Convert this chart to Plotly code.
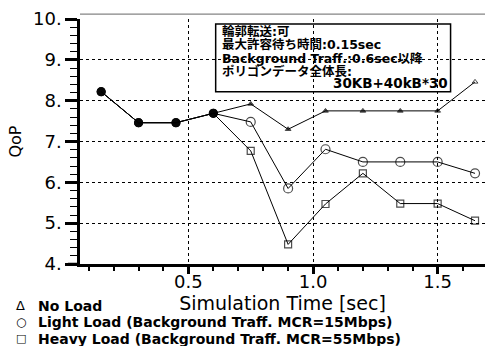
import plotly.graph_objects as go

time_s = [0.15, 0.30, 0.45, 0.60, 0.75, 0.90, 1.05, 1.20, 1.35, 1.50, 1.65]
no_load = [8.22, 7.46, 7.46, 7.69, 7.92, 7.30, 7.75, 7.75, 7.75, 7.75, 8.46]
light_load = [8.22, 7.46, 7.46, 7.69, 7.48, 5.85, 6.81, 6.50, 6.50, 6.50, 6.22]
heavy_load = [8.22, 7.46, 7.46, 7.69, 6.77, 4.48, 5.47, 6.22, 5.48, 5.48, 5.06]

y_tickvals = [4, 5, 6, 7, 8, 9, 10]
y_ticktext = ["4.", "5.", "6.", "7.", "8.", "9.", "10."]
x_tickvals = [0.5, 1.0, 1.5]
x_ticktext = ["0.5", "1.0", "1.5"]

legend_symbols = ["Δ", "○", "□"]
legend_labels = [
    "No Load",
    "Light Load (Background Traff. MCR=15Mbps)",
    "Heavy Load (Background Traff. MCR=55Mbps)",
]
info_lines = [
    "輪郭転送:可",
    "最大許容待ち時間:0.15sec",
    "Background Traff.:0.6sec以降",
    "ポリゴンデータ全体長:",
]
info_last = "30KB+40kB*30"

FONT = "DejaVu Sans, Noto Sans CJK JP, sans-serif"
fig = go.Figure()

fig.add_trace(go.Scatter(
    x=time_s, y=heavy_load, mode="lines+markers",
    line=dict(color="black", width=1),
    marker=dict(symbol=["circle"] * 4 + ["square-open"] * 7, size=[8] * 4 + [7] * 7,
                color="black", line=dict(width=1.2, color="black")),
    showlegend=False))
fig.add_trace(go.Scatter(
    x=time_s, y=light_load, mode="lines+markers",
    line=dict(color="black", width=1),
    marker=dict(symbol=["circle"] * 4 + ["circle-open"] * 7, size=[8] * 4 + [9] * 7,
                color="black", line=dict(width=1.2, color="black")),
    showlegend=False))
fig.add_trace(go.Scatter(
    x=time_s, y=no_load, mode="lines+markers",
    line=dict(color="black", width=1),
    marker=dict(symbol=["circle"] * 4 + ["triangle-up"] * 6 + ["triangle-up-open"],
                size=[8] * 4 + [5] * 7,
                color="black", line=dict(width=1, color="black")),
    showlegend=False))

fig.update_xaxes(
    range=[0.065, 1.69], tickvals=x_tickvals, ticktext=x_ticktext,
    automargin=False,
    showline=True, linecolor="black", linewidth=2.5,
    ticks="outside", ticklen=7, tickwidth=3, tickcolor="black",
    ticklabelstandoff=-7,
    showgrid=True, gridcolor="black", griddash="dot", gridwidth=1,
    zeroline=False,
    minor=dict(dtick=0.1, tick0=0, ticks="outside", ticklen=4, tickwidth=1.5,
               tickcolor="black", showgrid=False),
    tickfont=dict(family=FONT, size=18, color="black"),
    title=dict(text="Simulation Time [sec]", font=dict(family=FONT, size=19, color="black"),
               standoff=2),
)
fig.update_yaxes(
    range=[4, 10], tickvals=y_tickvals, ticktext=y_ticktext,
    automargin=False,
    showline=True, linecolor="black", linewidth=2.5,
    ticks="outside", ticklen=12, tickwidth=3, tickcolor="black",
    showgrid=True, gridcolor="black", griddash="dot", gridwidth=1,
    zeroline=False,
    minor=dict(dtick=0.2, tick0=0, ticks="outside", ticklen=7, tickwidth=1.2,
               tickcolor="black", showgrid=False),
    tickfont=dict(family=FONT, size=18, color="black"),
    title=dict(text="QoP", font=dict(family=FONT, size=16, color="black"), standoff=8),
)

fig.add_shape(type="line", xref="paper", yref="paper", x0=0, x1=1, y0=1.02, y1=1.02,
              line=dict(color="#666666", width=1))
fig.add_shape(type="line", xref="paper", yref="paper", x0=-0.03, x1=0, y0=0, y1=0,
              line=dict(color="black", width=2.5))

info_y = [0.948, 0.894, 0.839, 0.785]
for t, yy in zip(info_lines, info_y):
    fig.add_annotation(xref="paper", yref="paper", x=0.346, y=yy, xanchor="left",
                       yanchor="middle", text=t, showarrow=False,
                       font=dict(family=FONT, size=12.5, color="black", weight="bold"))
fig.add_annotation(xref="paper", yref="paper", x=0.913, y=0.737, xanchor="right",
                   yanchor="middle", text=info_last, showarrow=False,
                   font=dict(family=FONT, size=13.5, color="black", weight="bold"))
fig.add_shape(type="rect", xref="paper", yref="paper", x0=0.335, x1=0.915, y0=0.703, y1=0.980,
              line=dict(color="black", width=1.5))

leg_y = [-0.171, -0.237, -0.305]
sym_size = [13, 12, 11]
for s, t, yy, ss in zip(legend_symbols, legend_labels, leg_y, sym_size):
    fig.add_annotation(xref="paper", yref="paper", x=-0.146, y=yy, xanchor="center",
                       yanchor="middle", text=s, showarrow=False,
                       font=dict(family=FONT, size=ss, color="black"))
    fig.add_annotation(xref="paper", yref="paper", x=-0.1086, y=yy, xanchor="left",
                       yanchor="middle", text=t, showarrow=False,
                       font=dict(family=FONT, size=14, color="black", weight="bold"))

fig.update_layout(
    width=485, height=346,
    margin=dict(l=80, r=0, t=19, b=82),
    paper_bgcolor="white", plot_bgcolor="white",
    font=dict(family=FONT, color="black"),
)

fig.write_html("out.html", config={"displayModeBar": False},
               post_script="document.body.style.margin='0';")
